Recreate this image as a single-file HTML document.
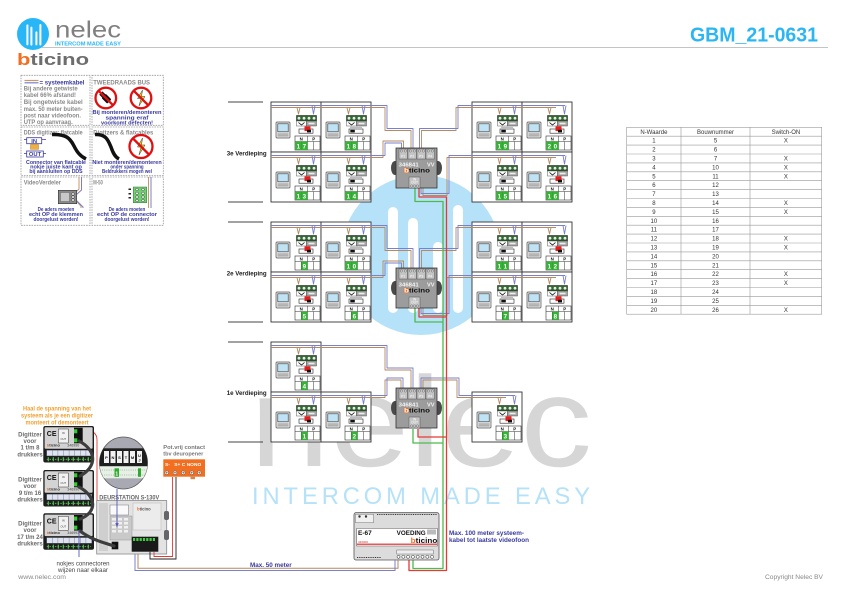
<!DOCTYPE html>
<html><head><meta charset="utf-8"><title>GBM_21-0631</title>
<style>
html,body{margin:0;padding:0;background:#fff;width:841px;height:595px;overflow:hidden;}
svg{display:block;}
text{font-family:"Liberation Sans",Arial,sans-serif;}
.np{font-size:4.4px;font-weight:bold;text-anchor:middle;fill:#111;}
.d{font-size:6.2px;font-weight:bold;text-anchor:middle;fill:#fff;}
.g{fill:#36b336;}
.lt{font-size:6.2px;font-weight:bold;fill:#8a8a8a;}
.lb{font-size:5.8px;font-weight:bold;fill:#3a3a9e;text-anchor:middle;}
.tb{font-size:6px;fill:#333;text-anchor:middle;}
.fl{font-size:6.2px;font-weight:bold;fill:#222;}
.gl{font-size:6px;font-weight:bold;fill:#6a6a6a;text-anchor:middle;}
.pp{font-size:3.3px;fill:#fff;text-anchor:middle;}
</style></head><body>
<svg width="841" height="595" viewBox="0 0 841 595" xmlns="http://www.w3.org/2000/svg">
<defs>
<g id="cb">
 <rect x="0" y="0" width="50" height="50" fill="#fff" stroke="#333" stroke-width="0.9"/>
 <rect x="5" y="20" width="14" height="16" rx="1" fill="#e4e4e4" stroke="#555" stroke-width="0.7"/>
 <rect x="6.8" y="21.8" width="10.4" height="8" fill="#bfe3f4" stroke="#333" stroke-width="0.6"/>
 <rect x="6.5" y="31.5" width="11" height="1.1" fill="#999"/>
 <rect x="6.5" y="33.3" width="11" height="1.1" fill="#999"/>
 <rect x="25.5" y="13.5" width="20" height="5.5" fill="#2c6a2c" stroke="#111" stroke-width="0.5"/>
 <g fill="#dff0df" stroke="#111" stroke-width="0.3"><circle cx="28" cy="16.2" r="1.7"/><circle cx="33" cy="16.2" r="1.7"/><circle cx="38" cy="16.2" r="1.7"/><circle cx="43" cy="16.2" r="1.7"/></g>
 <rect x="25.5" y="19" width="10" height="5" fill="#fff" stroke="#333" stroke-width="0.4"/>
 <path d="M27.5 20.5 L30.5 23 L33.5 20.5" fill="none" stroke="#000" stroke-width="0.8"/>
 <rect x="35.5" y="19" width="10" height="5" fill="#a5a5a5" stroke="#333" stroke-width="0.4"/>
 <rect x="37.5" y="20.7" width="6" height="1.6" fill="#eee"/>
 <rect x="28" y="27" width="14" height="4.2" fill="#fff" stroke="#222" stroke-width="0.6"/>
 <rect x="24" y="34" width="25" height="14" fill="#fff" stroke="#333" stroke-width="0.6"/>
 <path d="M24 39.5H49M36.5 34V48M30.25 39.5V48M42.75 39.5V48" stroke="#333" stroke-width="0.5"/>
</g>
<g id="on"><rect x="33.5" y="24.3" width="6" height="4.8" fill="#e41e1e"/><rect x="36" y="27.8" width="4" height="2.6" fill="#111"/></g>
<g id="off"><rect x="29.3" y="27.8" width="4.5" height="2.6" fill="#111"/><rect x="29" y="24.8" width="12" height="1.2" fill="#bbb"/></g>
<g id="dist">
 <ellipse cx="-1" cy="20" rx="4" ry="7" fill="#4a4a4a"/>
 <ellipse cx="42" cy="20" rx="4" ry="7" fill="#4a4a4a"/>
 <rect width="41" height="40" fill="#9c9c9c" stroke="#333" stroke-width="0.8"/>
 <g fill="#c4c4c4" stroke="#444" stroke-width="0.4"><rect x="3" y="1" width="8.5" height="10"/><rect x="12" y="1" width="8.5" height="10"/><rect x="21" y="1" width="8.5" height="10"/><rect x="30" y="1" width="8.5" height="10"/></g>
 <g fill="#e0e0e0" stroke="#444" stroke-width="0.4"><circle cx="5.3" cy="3" r="1.1"/><circle cx="9.3" cy="3" r="1.1"/><circle cx="14.3" cy="3" r="1.1"/><circle cx="18.3" cy="3" r="1.1"/><circle cx="23.3" cy="3" r="1.1"/><circle cx="27.3" cy="3" r="1.1"/><circle cx="32.3" cy="3" r="1.1"/><circle cx="36.3" cy="3" r="1.1"/></g>
 <rect x="7.8" y="19.8" width="4.6" height="5.2" fill="#f26f21"/>
 <rect x="13" y="29" width="11" height="11" fill="#c4c4c4" stroke="#444" stroke-width="0.4"/>
 <g fill="#e0e0e0" stroke="#444" stroke-width="0.4"><circle cx="15.5" cy="38" r="1.1"/><circle cx="18.5" cy="38" r="1.1"/><circle cx="21.5" cy="38" r="1.1"/></g>
</g>
<g id="dm">
 <rect x="0" y="0" width="50.7" height="36.5" rx="2" fill="#1e1e1e"/>
 <rect x="1.3" y="1.3" width="48" height="21.5" rx="1" fill="#d3d3d3"/>
 <rect x="15" y="3" width="10" height="14" fill="#f2f2f2" stroke="#333" stroke-width="0.5"/>
 <rect x="30.7" y="1.7" width="8.7" height="15.6" fill="#111"/>
 <rect x="30.7" y="3.3" width="3.3" height="4" fill="#3c3"/>
 <rect x="30.7" y="12.3" width="3.3" height="4" fill="#3c3"/>
 <rect x="3.4" y="24.3" width="45" height="5.6" fill="#dfe4f3" stroke="#667" stroke-width="0.3"/>
 <path d="M9 24.3V29.9M14.6 24.3V29.9M20.2 24.3V29.9M25.8 24.3V29.9M31.4 24.3V29.9M37 24.3V29.9M42.6 24.3V29.9" stroke="#667" stroke-width="0.4"/>
 <path d="M5 31.3V35.3M10 31.3V35.3M15 31.3V35.3M20 31.3V35.3M25 31.3V35.3M30 31.3V35.3M35 31.3V35.3M40 31.3V35.3M45 31.3V35.3" stroke="#5c5" stroke-width="1.1"/>
 <path d="M3.5 33.3H47.5" stroke="#5c5" stroke-width="0.8" stroke-dasharray="1.5 1.2"/>
</g>
<clipPath id="mag"><ellipse cx="123.5" cy="463" rx="24" ry="26"/></clipPath>
</defs>

<!-- watermark -->
<circle cx="421" cy="255" r="80" fill="#b5e2f8"/>
<g fill="#fff">
 <rect x="388" y="207" width="10" height="106" rx="5"/>
 <rect x="408" y="218" width="10" height="95" rx="5"/>
 <rect x="433" y="242" width="10" height="71" rx="5"/>
 <rect x="453" y="205" width="10" height="108" rx="5"/>
</g>
<text x="250" y="466" font-size="128" fill="#d6d6d6" textLength="342" lengthAdjust="spacingAndGlyphs">nelec</text>
<text x="252" y="504" font-size="23.7" fill="#b5e2f8" textLength="338" lengthAdjust="spacing">INTERCOM MADE EASY</text>

<!-- header -->
<line x1="42" y1="47.6" x2="828" y2="47.6" stroke="#bbb" stroke-width="0.9"/>
<circle cx="33" cy="34" r="16" fill="#29b6f6"/>
<g fill="#fff"><rect x="26.4" y="24.4" width="2" height="21" rx="1"/><rect x="30.4" y="26.6" width="2" height="19" rx="1"/><rect x="35.4" y="31.4" width="2" height="14" rx="1"/><rect x="39.4" y="24" width="2" height="21.5" rx="1"/></g>
<text x="55" y="37.3" font-size="23" fill="#808080" textLength="66" lengthAdjust="spacingAndGlyphs">nelec</text>
<text x="55" y="45.7" font-size="5.5" font-weight="bold" fill="#29b6f6" textLength="66" lengthAdjust="spacingAndGlyphs">INTERCOM MADE EASY</text>
<text x="17" y="65" font-size="16.5" font-weight="bold" textLength="72" lengthAdjust="spacingAndGlyphs"><tspan fill="#f26f21">b</tspan><tspan fill="#6d6d6d">ticino</tspan></text>
<text x="690" y="41.7" font-size="20" font-weight="bold" fill="#2bb6f2" textLength="128" lengthAdjust="spacingAndGlyphs">GBM_21-0631</text>

<!-- legend -->
<g fill="none" stroke="#9a9a9a" stroke-width="0.8" stroke-dasharray="1.6 1">
<rect x="21" y="75.3" width="69" height="50"/><rect x="92" y="75.3" width="71.3" height="50"/>
<rect x="21" y="127" width="69" height="48.5"/><rect x="92" y="127" width="71.3" height="48.5"/>
<rect x="21" y="177" width="69" height="48.3"/><rect x="92" y="177" width="71.3" height="48.3"/>
</g>
<path d="M24.5 80.5H38.5" stroke="#c49a6c" stroke-width="1.2"/><path d="M24.5 82.8H38.5" stroke="#7b80c8" stroke-width="1.2"/>
<text x="39.5" y="84.3" font-size="6.3" font-weight="bold" fill="#3a3a9e" textLength="45" lengthAdjust="spacingAndGlyphs">= systeemkabel</text>
<text class="lt" x="23.7" y="90.5" textLength="54" lengthAdjust="spacingAndGlyphs">Bij andere getwiste</text>
<text class="lt" x="23.7" y="97" textLength="52.3" lengthAdjust="spacingAndGlyphs">kabel 66% afstand!</text>
<text class="lt" x="23.7" y="104.2" textLength="59" lengthAdjust="spacingAndGlyphs">Bij ongetwiste kabel</text>
<text class="lt" x="23.7" y="110.8" textLength="59" lengthAdjust="spacingAndGlyphs">max. 50 meter buiten-</text>
<text class="lt" x="23.7" y="117.5" textLength="57.3" lengthAdjust="spacingAndGlyphs">post naar videofoon.</text>
<text class="lt" x="23.7" y="124" textLength="49" lengthAdjust="spacingAndGlyphs">UTP op aanvraag.</text>

<text class="lt" x="93.3" y="84.3" textLength="56.7" lengthAdjust="spacingAndGlyphs">TWEEDRAADS BUS</text>
<g transform="translate(105.8,98)">
 <circle r="10.3" fill="#fff" stroke="#e01010" stroke-width="2.3"/>
 <g transform="rotate(-45)"><rect x="-3" y="-3" width="6" height="8" rx="1" fill="#111"/><rect x="-2.3" y="-7" width="1.3" height="4.2" fill="#111"/><rect x="1" y="-7" width="1.3" height="4.2" fill="#111"/><rect x="-0.7" y="5" width="1.4" height="4" fill="#111"/></g>
 <line x1="-7.2" y1="-7.2" x2="7.2" y2="7.2" stroke="#e01010" stroke-width="2.3"/>
</g>
<g transform="translate(141,98)">
 <circle r="10.3" fill="#fff" stroke="#e01010" stroke-width="2.3"/>
 <path d="M1.5 -8 L-3.5 0.5 L0 0.5 L-2 8 L4 -1.5 L0.5 -1.5 Z" fill="#f4d21f" stroke="#333" stroke-width="0.5"/>
 <line x1="-7.2" y1="-7.2" x2="7.2" y2="7.2" stroke="#e01010" stroke-width="2.3"/>
</g>
<text class="lb" x="127" y="114.2" textLength="69" lengthAdjust="spacingAndGlyphs">Bij monteren/demonteren</text>
<text class="lb" x="127" y="119.6" font-size="6.8" textLength="43" lengthAdjust="spacingAndGlyphs">spanning eraf</text>
<text class="lb" x="127" y="124.4" textLength="52" lengthAdjust="spacingAndGlyphs">voorkomt defecten!</text>

<text class="lt" x="23.7" y="134.5" textLength="59" lengthAdjust="spacingAndGlyphs">DDS digitizer: flatcable</text>
<path d="M24 139.5H26.7M41.7 139.5H46M24 153.5H26.7M43.3 153.5H46" stroke="#3a3a9e" stroke-width="0.8"/>
<rect x="26.7" y="137.7" width="15" height="6" fill="#fff" stroke="#3a3a9e" stroke-width="0.8"/>
<text x="34.2" y="142.9" font-size="5.8" font-weight="bold" fill="#3a3a9e" text-anchor="middle">IN</text>
<rect x="30.5" y="144.5" width="8" height="4.8" fill="#f0b040" stroke="#a60" stroke-width="0.4"/>
<rect x="26.7" y="151" width="16.6" height="6" fill="#fff" stroke="#3a3a9e" stroke-width="0.8"/>
<text x="35" y="156.2" font-size="5.8" font-weight="bold" fill="#3a3a9e" text-anchor="middle">OUT</text>
<path d="M52 134.5 C66 134 70 138 74 146 C77 152 80 156 86 159" fill="none" stroke="#111" stroke-width="3.5"/>
<text class="lb" x="56" y="164" font-size="5.3" textLength="60" lengthAdjust="spacingAndGlyphs">Connector van flatcable</text>
<text class="lb" x="56" y="168.5" font-size="5.3" textLength="51.7" lengthAdjust="spacingAndGlyphs">nokje juiste kant op</text>
<text class="lb" x="56" y="173" font-size="5.3" textLength="53.3" lengthAdjust="spacingAndGlyphs">bij aansluiten op DDS</text>

<text class="lt" x="93.3" y="134.5" textLength="60" lengthAdjust="spacingAndGlyphs">Digitzers &amp; flatcables</text>
<path d="M95 134.5 C106 134 108 140 111 147 C113 153 115 157 119 159" fill="none" stroke="#111" stroke-width="3.5"/>
<g transform="translate(141,146.5)">
 <circle r="11.5" fill="#fff" stroke="#e01010" stroke-width="2.3"/>
 <path d="M1.5 -8.5 L-3.5 0.5 L0 0.5 L-2 8.5 L4 -1.5 L0.5 -1.5 Z" fill="#f4d21f" stroke="#333" stroke-width="0.5"/>
 <line x1="-8" y1="-8" x2="8" y2="8" stroke="#e01010" stroke-width="2.3"/>
</g>
<text class="lb" x="127" y="164" font-size="5.3" textLength="69.3" lengthAdjust="spacingAndGlyphs">Niet monteren/demonteren</text>
<text class="lb" x="127" y="168.5" font-size="5.3" textLength="33.3" lengthAdjust="spacingAndGlyphs">onder spanning</text>
<text class="lb" x="127" y="173" font-size="5.3" textLength="50" lengthAdjust="spacingAndGlyphs">Beldrukkers mogen wel</text>

<text class="lt" x="23.7" y="184.5" textLength="37.3" lengthAdjust="spacingAndGlyphs">VideoVerdeler</text>
<path d="M79 177V189L74 194V199L81 206V208" fill="none" stroke="#c49a6c" stroke-width="1"/>
<path d="M81.5 177V190L76 195V200L83 207V208" fill="none" stroke="#7b80c8" stroke-width="1"/>
<rect x="58.3" y="190.3" width="18.4" height="13.4" fill="#8a8a8a" stroke="#333" stroke-width="0.6"/>
<rect x="60.5" y="192.5" width="9" height="9" fill="#c8c8c8" stroke="#555" stroke-width="0.4"/>
<g fill="#eee" stroke="#222" stroke-width="0.4"><circle cx="73" cy="194" r="1.3"/><circle cx="73" cy="197" r="1.3"/><circle cx="73" cy="200" r="1.3"/></g>
<text class="lb" x="56" y="210.8" textLength="36.7" lengthAdjust="spacingAndGlyphs">De aders moeten</text>
<text class="lb" x="56" y="215.8" textLength="54" lengthAdjust="spacingAndGlyphs">echt OP de klemmen</text>
<text class="lb" x="56" y="220.8" textLength="45" lengthAdjust="spacingAndGlyphs">doorgelust worden!</text>

<text class="lt" x="93.3" y="184.5" textLength="9.5" lengthAdjust="spacingAndGlyphs">M-50</text>
<path d="M148.5 177V208" stroke="#c49a6c" stroke-width="1"/><path d="M151 177V208" stroke="#7b80c8" stroke-width="1"/>
<rect x="133.3" y="187" width="13.4" height="15.7" fill="#6fd06f" stroke="#2a7a2a" stroke-width="0.5"/>
<g fill="#eee" stroke="#222" stroke-width="0.4"><circle cx="137" cy="189.5" r="1.3"/><circle cx="137" cy="193.3" r="1.3"/><circle cx="137" cy="197" r="1.3"/><circle cx="137" cy="200.5" r="1.3"/><circle cx="143" cy="189.5" r="1.3"/><circle cx="143" cy="193.3" r="1.3"/><circle cx="143" cy="197" r="1.3"/><circle cx="143" cy="200.5" r="1.3"/></g>
<g fill="#222"><rect x="128.5" y="188.5" width="2.5" height="1.5"/><rect x="128.5" y="193" width="2.5" height="1.5"/><rect x="128.5" y="197" width="2.5" height="1.5"/></g>
<text class="lb" x="127" y="210.8" textLength="36.7" lengthAdjust="spacingAndGlyphs">De aders moeten</text>
<text class="lb" x="127" y="215.8" textLength="60" lengthAdjust="spacingAndGlyphs">echt OP de connector</text>
<text class="lb" x="127" y="220.8" textLength="45" lengthAdjust="spacingAndGlyphs">doorgelust worden!</text>

<!-- table -->
<g stroke="#999" stroke-width="0.6" fill="none">
<rect x="626.7" y="127.3" width="195" height="186.9"/>
<path d="M681 127.3V314.2M750 127.3V314.2"/>
<path d="M626.7 136.2H821.7M626.7 145.1H821.7M626.7 154H821.7M626.7 162.9H821.7M626.7 171.8H821.7M626.7 180.7H821.7M626.7 189.6H821.7M626.7 198.5H821.7M626.7 207.4H821.7M626.7 216.3H821.7M626.7 225.2H821.7M626.7 234.1H821.7M626.7 243H821.7M626.7 251.9H821.7M626.7 260.8H821.7M626.7 269.7H821.7M626.7 278.6H821.7M626.7 287.5H821.7M626.7 296.4H821.7M626.7 305.3H821.7"/>
</g>
<g class="tb">
<text class="tb" x="653.9" y="133.8">N-Waarde</text><text class="tb" x="715.5" y="133.8">Bouwnummer</text><text class="tb" x="785.9" y="133.8">Switch-ON</text>
<text class="tb" x="653.9" y="142.7">1</text><text class="tb" x="715.5" y="142.7">5</text><text class="tb" x="785.9" y="142.7">X</text>
<text class="tb" x="653.9" y="151.6">2</text><text class="tb" x="715.5" y="151.6">6</text>
<text class="tb" x="653.9" y="160.5">3</text><text class="tb" x="715.5" y="160.5">7</text><text class="tb" x="785.9" y="160.5">X</text>
<text class="tb" x="653.9" y="169.4">4</text><text class="tb" x="715.5" y="169.4">10</text><text class="tb" x="785.9" y="169.4">X</text>
<text class="tb" x="653.9" y="178.3">5</text><text class="tb" x="715.5" y="178.3">11</text><text class="tb" x="785.9" y="178.3">X</text>
<text class="tb" x="653.9" y="187.2">6</text><text class="tb" x="715.5" y="187.2">12</text>
<text class="tb" x="653.9" y="196.1">7</text><text class="tb" x="715.5" y="196.1">13</text>
<text class="tb" x="653.9" y="205">8</text><text class="tb" x="715.5" y="205">14</text><text class="tb" x="785.9" y="205">X</text>
<text class="tb" x="653.9" y="213.9">9</text><text class="tb" x="715.5" y="213.9">15</text><text class="tb" x="785.9" y="213.9">X</text>
<text class="tb" x="653.9" y="222.8">10</text><text class="tb" x="715.5" y="222.8">16</text>
<text class="tb" x="653.9" y="231.7">11</text><text class="tb" x="715.5" y="231.7">17</text>
<text class="tb" x="653.9" y="240.6">12</text><text class="tb" x="715.5" y="240.6">18</text><text class="tb" x="785.9" y="240.6">X</text>
<text class="tb" x="653.9" y="249.5">13</text><text class="tb" x="715.5" y="249.5">19</text><text class="tb" x="785.9" y="249.5">X</text>
<text class="tb" x="653.9" y="258.4">14</text><text class="tb" x="715.5" y="258.4">20</text>
<text class="tb" x="653.9" y="267.3">15</text><text class="tb" x="715.5" y="267.3">21</text>
<text class="tb" x="653.9" y="276.2">16</text><text class="tb" x="715.5" y="276.2">22</text><text class="tb" x="785.9" y="276.2">X</text>
<text class="tb" x="653.9" y="285.1">17</text><text class="tb" x="715.5" y="285.1">23</text><text class="tb" x="785.9" y="285.1">X</text>
<text class="tb" x="653.9" y="294">18</text><text class="tb" x="715.5" y="294">24</text>
<text class="tb" x="653.9" y="302.9">19</text><text class="tb" x="715.5" y="302.9">25</text>
<text class="tb" x="653.9" y="311.8">20</text><text class="tb" x="715.5" y="311.8">26</text><text class="tb" x="785.9" y="311.8">X</text>
</g>

<!-- floors -->
<path d="M228 102H263M228 202H263M228 222H263M228 322H263M228 342H263M228 442H263" stroke="#444" stroke-width="0.9"/>
<text class="fl" x="226.7" y="155.5" textLength="40" lengthAdjust="spacingAndGlyphs">3e Verdieping</text>
<text class="fl" x="226.7" y="275.5" textLength="40" lengthAdjust="spacingAndGlyphs">2e Verdieping</text>
<text class="fl" x="226.7" y="395.2" textLength="40" lengthAdjust="spacingAndGlyphs">1e Verdieping</text>

<!-- cells 3e -->
<g transform="translate(271,102)"><use href="#cb"/><use href="#on"/><rect class="g" x="24.3" y="39.5" width="5.95" height="8.5"/><rect class="g" x="30.25" y="39.5" width="6.25" height="8.5"/><text class="np" x="30.25" y="38.6">N</text><text class="np" x="42.75" y="38.6">P</text><text class="d" x="27.3" y="46.4">1</text><text class="d" x="33.4" y="46.4">7</text></g>
<g transform="translate(321,102)"><use href="#cb"/><use href="#off"/><rect class="g" x="24.3" y="39.5" width="5.95" height="8.5"/><rect class="g" x="30.25" y="39.5" width="6.25" height="8.5"/><text class="np" x="30.25" y="38.6">N</text><text class="np" x="42.75" y="38.6">P</text><text class="d" x="27.3" y="46.4">1</text><text class="d" x="33.4" y="46.4">8</text></g>
<g transform="translate(472,102)"><use href="#cb"/><use href="#off"/><rect class="g" x="24.3" y="39.5" width="5.95" height="8.5"/><rect class="g" x="30.25" y="39.5" width="6.25" height="8.5"/><text class="np" x="30.25" y="38.6">N</text><text class="np" x="42.75" y="38.6">P</text><text class="d" x="27.3" y="46.4">1</text><text class="d" x="33.4" y="46.4">9</text></g>
<g transform="translate(522,102)"><use href="#cb"/><use href="#on"/><rect class="g" x="24.3" y="39.5" width="5.95" height="8.5"/><rect class="g" x="30.25" y="39.5" width="6.25" height="8.5"/><text class="np" x="30.25" y="38.6">N</text><text class="np" x="42.75" y="38.6">P</text><text class="d" x="27.3" y="46.4">2</text><text class="d" x="33.4" y="46.4">0</text></g>
<g transform="translate(271,152)"><use href="#cb"/><use href="#on"/><rect class="g" x="24.3" y="39.5" width="5.95" height="8.5"/><rect class="g" x="30.25" y="39.5" width="6.25" height="8.5"/><text class="np" x="30.25" y="38.6">N</text><text class="np" x="42.75" y="38.6">P</text><text class="d" x="27.3" y="46.4">1</text><text class="d" x="33.4" y="46.4">3</text></g>
<g transform="translate(321,152)"><use href="#cb"/><use href="#off"/><rect class="g" x="24.3" y="39.5" width="5.95" height="8.5"/><rect class="g" x="30.25" y="39.5" width="6.25" height="8.5"/><text class="np" x="30.25" y="38.6">N</text><text class="np" x="42.75" y="38.6">P</text><text class="d" x="27.3" y="46.4">1</text><text class="d" x="33.4" y="46.4">4</text></g>
<g transform="translate(472,152)"><use href="#cb"/><use href="#off"/><rect class="g" x="24.3" y="39.5" width="5.95" height="8.5"/><rect class="g" x="30.25" y="39.5" width="6.25" height="8.5"/><text class="np" x="30.25" y="38.6">N</text><text class="np" x="42.75" y="38.6">P</text><text class="d" x="27.3" y="46.4">1</text><text class="d" x="33.4" y="46.4">5</text></g>
<g transform="translate(522,152)"><use href="#cb"/><use href="#on"/><rect class="g" x="24.3" y="39.5" width="5.95" height="8.5"/><rect class="g" x="30.25" y="39.5" width="6.25" height="8.5"/><text class="np" x="30.25" y="38.6">N</text><text class="np" x="42.75" y="38.6">P</text><text class="d" x="27.3" y="46.4">1</text><text class="d" x="33.4" y="46.4">6</text></g>
<!-- cells 2e -->
<g transform="translate(271,222)"><use href="#cb"/><use href="#on"/><rect class="g" x="30.25" y="39.5" width="6.25" height="8.5"/><text class="np" x="30.25" y="38.6">N</text><text class="np" x="42.75" y="38.6">P</text><text class="d" x="33.4" y="46.4">9</text></g>
<g transform="translate(321,222)"><use href="#cb"/><use href="#off"/><rect class="g" x="24.3" y="39.5" width="5.95" height="8.5"/><rect class="g" x="30.25" y="39.5" width="6.25" height="8.5"/><text class="np" x="30.25" y="38.6">N</text><text class="np" x="42.75" y="38.6">P</text><text class="d" x="27.3" y="46.4">1</text><text class="d" x="33.4" y="46.4">0</text></g>
<g transform="translate(472,222)"><use href="#cb"/><use href="#off"/><rect class="g" x="24.3" y="39.5" width="5.95" height="8.5"/><rect class="g" x="30.25" y="39.5" width="6.25" height="8.5"/><text class="np" x="30.25" y="38.6">N</text><text class="np" x="42.75" y="38.6">P</text><text class="d" x="27.3" y="46.4">1</text><text class="d" x="33.4" y="46.4">1</text></g>
<g transform="translate(522,222)"><use href="#cb"/><use href="#on"/><rect class="g" x="24.3" y="39.5" width="5.95" height="8.5"/><rect class="g" x="30.25" y="39.5" width="6.25" height="8.5"/><text class="np" x="30.25" y="38.6">N</text><text class="np" x="42.75" y="38.6">P</text><text class="d" x="27.3" y="46.4">1</text><text class="d" x="33.4" y="46.4">2</text></g>
<g transform="translate(271,272)"><use href="#cb"/><use href="#on"/><rect class="g" x="30.25" y="39.5" width="6.25" height="8.5"/><text class="np" x="30.25" y="38.6">N</text><text class="np" x="42.75" y="38.6">P</text><text class="d" x="33.4" y="46.4">5</text></g>
<g transform="translate(321,272)"><use href="#cb"/><use href="#off"/><rect class="g" x="30.25" y="39.5" width="6.25" height="8.5"/><text class="np" x="30.25" y="38.6">N</text><text class="np" x="42.75" y="38.6">P</text><text class="d" x="33.4" y="46.4">6</text></g>
<g transform="translate(472,272)"><use href="#cb"/><use href="#off"/><rect class="g" x="30.25" y="39.5" width="6.25" height="8.5"/><text class="np" x="30.25" y="38.6">N</text><text class="np" x="42.75" y="38.6">P</text><text class="d" x="33.4" y="46.4">7</text></g>
<g transform="translate(522,272)"><use href="#cb"/><use href="#on"/><rect class="g" x="30.25" y="39.5" width="6.25" height="8.5"/><text class="np" x="30.25" y="38.6">N</text><text class="np" x="42.75" y="38.6">P</text><text class="d" x="33.4" y="46.4">8</text></g>
<!-- cells 1e -->
<g transform="translate(271,342)"><use href="#cb"/><use href="#on"/><rect class="g" x="30.25" y="39.5" width="6.25" height="8.5"/><text class="np" x="30.25" y="38.6">N</text><text class="np" x="42.75" y="38.6">P</text><text class="d" x="33.4" y="46.4">4</text></g>
<g transform="translate(271,392)"><use href="#cb"/><use href="#on"/><rect class="g" x="30.25" y="39.5" width="6.25" height="8.5"/><text class="np" x="30.25" y="38.6">N</text><text class="np" x="42.75" y="38.6">P</text><text class="d" x="33.4" y="46.4">1</text></g>
<g transform="translate(321,392)"><use href="#cb"/><use href="#off"/><rect class="g" x="30.25" y="39.5" width="6.25" height="8.5"/><text class="np" x="30.25" y="38.6">N</text><text class="np" x="42.75" y="38.6">P</text><text class="d" x="33.4" y="46.4">2</text></g>
<g transform="translate(472,392)"><use href="#cb"/><use href="#on"/><rect class="g" x="30.25" y="39.5" width="6.25" height="8.5"/><text class="np" x="30.25" y="38.6">N</text><text class="np" x="42.75" y="38.6">P</text><text class="d" x="33.4" y="46.4">3</text></g>

<!-- cables -->
<g fill="none" stroke="#b48a60" stroke-width="0.9" stroke-linejoin="round">
<path d="M271 107.5H385V130.5H411V148M271 157.5H383V141H403.5V148M556 107.5H456V130.5H421.5V148M556 157.5H447V195.5H423V188"/>
<path d="M271 227.5H385V250.5H411V268M271 277.5H383V261H403.5V268M556 227.5H456V250.5H421.5V268M556 277.5H447V315.5H423V308"/>
<path d="M271 347.5H385V370H411V388M271 397.5H385V380H401V388M506 397.5H457V380H423V388"/>
<path d="M297 107.5L298.5 114L300 107.5M347 107.5L348.5 114L350 107.5M498 107.5L499.5 114L501 107.5M548 107.5L549.5 114L551 107.5
M297 157.5L298.5 164L300 157.5M347 157.5L348.5 164L350 157.5M498 157.5L499.5 164L501 157.5M548 157.5L549.5 164L551 157.5
M297 227.5L298.5 234L300 227.5M347 227.5L348.5 234L350 227.5M498 227.5L499.5 234L501 227.5M548 227.5L549.5 234L551 227.5
M297 277.5L298.5 284L300 277.5M347 277.5L348.5 284L350 277.5M498 277.5L499.5 284L501 277.5M548 277.5L549.5 284L551 277.5
M297 347.5L298.5 354L300 347.5M297 397.5L298.5 404L300 397.5M347 397.5L348.5 404L350 397.5M498 397.5L499.5 404L501 397.5"/>
</g>
<g fill="none" stroke="#7a80cc" stroke-width="0.9" stroke-linejoin="round">
<path d="M271 105.5H387V128.5H413V148M271 155.5H385V143H401.5V148M565 105.5H458V128.5H419.5V148M565 155.5H449V193.5H421V188"/>
<path d="M271 225.5H387V248.5H413V268M271 275.5H385V263H401.5V268M565 225.5H458V248.5H419.5V268M565 275.5H449V313.5H421V308"/>
<path d="M271 345.5H387V368H413V388M271 395.5H387V378H403V388M515 395.5H459V378H421V388"/>
<path d="M312 105.5L313.5 114L315 105.5M362 105.5L363.5 114L365 105.5M513 105.5L514.5 114L516 105.5M563 105.5L564.5 114L566 105.5
M312 155.5L313.5 164L315 155.5M362 155.5L363.5 164L365 155.5M513 155.5L514.5 164L516 155.5M563 155.5L564.5 164L566 155.5
M312 225.5L313.5 234L315 225.5M362 225.5L363.5 234L365 225.5M513 225.5L514.5 234L516 225.5M563 225.5L564.5 234L566 225.5
M312 275.5L313.5 284L315 275.5M362 275.5L363.5 284L365 275.5M513 275.5L514.5 284L516 275.5M563 275.5L564.5 284L566 275.5
M312 345.5L313.5 354L315 345.5M312 395.5L313.5 404L315 395.5M362 395.5L363.5 404L365 395.5M513 395.5L514.5 404L516 395.5"/>
</g>

<!-- riser -->
<g fill="none" stroke-width="1.3" stroke-linejoin="round">
<path d="M415 188V201.5H443V568.5H413V560M415 308V322H443M413 429V443H443" stroke="#4cbb4c"/>
<path d="M419 188V197H446.5V570.5H409V560M419 308V317H446.5M418 429V437H446.5" stroke="#e53935"/>
</g>

<!-- distributors -->
<g transform="translate(396,148)"><use href="#dist"/><text class="pp" x="7.2" y="9.5">P1</text><text class="pp" x="16.2" y="9.5">P2</text><text class="pp" x="25.2" y="9.5">P3</text><text class="pp" x="34.2" y="9.5">P4</text><text x="2.7" y="18.5" font-size="5.6" font-weight="bold" fill="#f4f4f4" textLength="20" lengthAdjust="spacingAndGlyphs">346841</text><text x="31" y="18.5" font-size="5.6" font-weight="bold" fill="#f4f4f4">VV</text><text x="8" y="24.6" font-size="6.8" font-weight="bold" textLength="26" lengthAdjust="spacingAndGlyphs"><tspan fill="#fff">b</tspan><tspan fill="#111">ticino</tspan></text><text class="pp" x="18.5" y="32.5">IN</text><text class="pp" x="18.5" y="35.6">OUT</text></g>
<g transform="translate(396,268)"><use href="#dist"/><text class="pp" x="7.2" y="9.5">P1</text><text class="pp" x="16.2" y="9.5">P2</text><text class="pp" x="25.2" y="9.5">P3</text><text class="pp" x="34.2" y="9.5">P4</text><text x="2.7" y="18.5" font-size="5.6" font-weight="bold" fill="#f4f4f4" textLength="20" lengthAdjust="spacingAndGlyphs">346841</text><text x="31" y="18.5" font-size="5.6" font-weight="bold" fill="#f4f4f4">VV</text><text x="8" y="24.6" font-size="6.8" font-weight="bold" textLength="26" lengthAdjust="spacingAndGlyphs"><tspan fill="#fff">b</tspan><tspan fill="#111">ticino</tspan></text><text class="pp" x="18.5" y="32.5">IN</text><text class="pp" x="18.5" y="35.6">OUT</text></g>
<g transform="translate(396,388)"><use href="#dist"/><text class="pp" x="7.2" y="9.5">P1</text><text class="pp" x="16.2" y="9.5">P2</text><text class="pp" x="25.2" y="9.5">P3</text><text class="pp" x="34.2" y="9.5">P4</text><text x="2.7" y="18.5" font-size="5.6" font-weight="bold" fill="#f4f4f4" textLength="20" lengthAdjust="spacingAndGlyphs">346841</text><text x="31" y="18.5" font-size="5.6" font-weight="bold" fill="#f4f4f4">VV</text><text x="8" y="24.6" font-size="6.8" font-weight="bold" textLength="26" lengthAdjust="spacingAndGlyphs"><tspan fill="#fff">b</tspan><tspan fill="#111">ticino</tspan></text><text class="pp" x="18.5" y="32.5">IN</text><text class="pp" x="18.5" y="35.6">OUT</text></g>

<!-- voeding -->
<rect x="354" y="512.7" width="85" height="47.3" rx="2" fill="#dcdcdc" stroke="#555" stroke-width="0.8"/>
<rect x="355.5" y="514.2" width="18" height="8.5" fill="#f0f0f0" stroke="#555" stroke-width="0.4"/>
<g fill="#333"><circle cx="359.5" cy="516.5" r="1.2"/><circle cx="366" cy="516.5" r="1.2"/></g>
<path d="M377 514.5H437M357 557.5H381" stroke="#333" stroke-width="1" stroke-dasharray="1 0.8"/>
<rect x="356.7" y="528.3" width="80.6" height="17.7" fill="#fff" stroke="#555" stroke-width="0.5"/>
<line x1="357" y1="544.2" x2="437" y2="544.2" stroke="#d22" stroke-width="1.2"/>
<rect x="427" y="529.5" width="9" height="5" fill="#bbb"/>
<text x="358" y="534.8" font-size="6.5" font-weight="bold" fill="#111">E-67</text>
<text x="396.7" y="534.8" font-size="6" font-weight="bold" fill="#111" textLength="29" lengthAdjust="spacingAndGlyphs">VOEDING</text>
<text x="410.7" y="542.8" font-size="7" font-weight="bold" textLength="26.6" lengthAdjust="spacingAndGlyphs"><tspan fill="#f26f21">b</tspan><tspan fill="#111">ticino</tspan></text>
<text x="358" y="542.8" font-size="3" fill="#c33">346000</text>
<rect x="396.7" y="550" width="36.6" height="4" fill="#eee" stroke="#555" stroke-width="0.4"/>
<g fill="#fff" stroke="#222" stroke-width="0.5"><circle cx="398.5" cy="556.8" r="1.5"/><circle cx="403.3" cy="556.8" r="1.5"/><circle cx="408.1" cy="556.8" r="1.5"/><circle cx="412.9" cy="556.8" r="1.5"/><circle cx="417.7" cy="556.8" r="1.5"/><circle cx="422.5" cy="556.8" r="1.5"/><circle cx="427.3" cy="556.8" r="1.5"/><circle cx="432.1" cy="556.8" r="1.5"/></g>
<text x="449" y="535" font-size="6" font-weight="bold" fill="#3a3a9e" textLength="75" lengthAdjust="spacingAndGlyphs">Max. 100 meter systeem-</text>
<text x="449" y="542" font-size="6" font-weight="bold" fill="#3a3a9e" textLength="80" lengthAdjust="spacingAndGlyphs">kabel tot laatste videofoon</text>

<!-- bottom cables -->
<path d="M138 551.7V568.3H398V560" fill="none" stroke="#b48a60" stroke-width="1"/>
<path d="M135 551.7V570.5H395V560" fill="none" stroke="#7a80cc" stroke-width="1"/>
<text x="250" y="566.8" font-size="6" font-weight="bold" fill="#3a3a9e" textLength="41.7" lengthAdjust="spacingAndGlyphs">Max. 50 meter</text>

<!-- bottom-left digitizers -->
<text class="gl" x="57" y="410.5" style="fill:#f0a030" textLength="68" lengthAdjust="spacingAndGlyphs">Haal de spanning van het</text>
<text class="gl" x="57" y="417.5" style="fill:#f0a030" textLength="72" lengthAdjust="spacingAndGlyphs">systeem als je een digitizer</text>
<text class="gl" x="57" y="424.5" style="fill:#f0a030" textLength="63" lengthAdjust="spacingAndGlyphs">monteert of demonteert</text>

<text class="gl" x="30" y="436.5">Digitizer</text><text class="gl" x="30" y="443">voor</text><text class="gl" x="30" y="449.5">1 t/m 8</text><text class="gl" x="30" y="456.5">drukkers</text>
<text class="gl" x="30" y="481.5">Digitizer</text><text class="gl" x="30" y="488">voor</text><text class="gl" x="30" y="495">9 t/m 16</text><text class="gl" x="30" y="501.5">drukkers</text>
<text class="gl" x="30" y="525.5">Digitizer</text><text class="gl" x="30" y="532">voor</text><text class="gl" x="30" y="539">17 t/m 24</text><text class="gl" x="30" y="545.5">drukkers</text>

<path d="M84 430C92 430 97 433 97 440V546C97 551 103 551 112 548" fill="none" stroke="#e53935" stroke-width="0.9"/>

<g transform="translate(43.3,426)"><use href="#dm"/><text x="3.5" y="10" font-size="7" font-weight="bold" fill="#111">CE</text><text x="3.5" y="20.5" font-size="4" font-weight="bold"><tspan fill="#f26f21">b</tspan><tspan fill="#333">ticino</tspan></text><text x="24" y="20.5" font-size="3.6" fill="#444">346990</text><text x="20" y="8" font-size="2.6" fill="#333" text-anchor="middle">IN</text><text x="20" y="14" font-size="2.6" fill="#333" text-anchor="middle">OUT</text></g>
<g transform="translate(43.3,470)"><use href="#dm"/><text x="3.5" y="10" font-size="7" font-weight="bold" fill="#111">CE</text><text x="3.5" y="20.5" font-size="4" font-weight="bold"><tspan fill="#f26f21">b</tspan><tspan fill="#333">ticino</tspan></text><text x="24" y="20.5" font-size="3.6" fill="#444">346990</text><text x="20" y="8" font-size="2.6" fill="#333" text-anchor="middle">IN</text><text x="20" y="14" font-size="2.6" fill="#333" text-anchor="middle">OUT</text></g>
<g transform="translate(43.3,513.3)"><use href="#dm"/><text x="3.5" y="10" font-size="7" font-weight="bold" fill="#111">CE</text><text x="3.5" y="20.5" font-size="4" font-weight="bold"><tspan fill="#f26f21">b</tspan><tspan fill="#333">ticino</tspan></text><text x="24" y="20.5" font-size="3.6" fill="#444">346993</text><text x="20" y="8" font-size="2.6" fill="#333" text-anchor="middle">IN</text><text x="20" y="14" font-size="2.6" fill="#333" text-anchor="middle">OUT</text></g>

<!-- door station -->
<text x="99.3" y="499.3" font-size="6" font-weight="bold" fill="#666" textLength="60" lengthAdjust="spacingAndGlyphs">DEURSTATION S-130V</text>
<rect x="96.7" y="500.5" width="70" height="53.5" fill="#e3e3e3" stroke="#8a8a8a" stroke-width="0.8"/>
<rect x="99" y="503" width="9" height="48" fill="#cfcfcf"/>
<rect x="110" y="505" width="18.5" height="10" fill="#fafafa" stroke="#777" stroke-width="0.5"/>
<rect x="110" y="516" width="22" height="24" fill="#c9c9c9" stroke="#888" stroke-width="0.4"/>
<g fill="#f0f0f0"><rect x="112" y="518" width="4" height="2.5"/><rect x="112" y="522" width="4" height="2.5"/><rect x="112" y="526" width="4" height="2.5"/><rect x="112" y="530" width="4" height="2.5"/><rect x="118" y="518" width="4" height="2.5"/><rect x="118" y="522" width="4" height="2.5"/><rect x="118" y="526" width="4" height="2.5"/><rect x="118" y="530" width="4" height="2.5"/><rect x="124" y="518" width="4" height="2.5"/><rect x="124" y="522" width="4" height="2.5"/><rect x="124" y="526" width="4" height="2.5"/><rect x="124" y="530" width="4" height="2.5"/></g>
<rect x="133" y="503" width="28" height="27" fill="#ececec" stroke="#aaa" stroke-width="0.4"/>
<text x="137" y="510.5" font-size="4.2" font-weight="bold"><tspan fill="#f26f21">b</tspan><tspan fill="#555">ticino</tspan></text>
<rect x="164" y="511" width="5" height="9" rx="2" fill="#666"/><rect x="164" y="530" width="5" height="10" rx="2" fill="#666"/>
<rect x="131.7" y="536.7" width="26.6" height="15" fill="#1a1a1a"/>
<g fill="#4c4"><rect x="133" y="538" width="2.2" height="3"/><rect x="136.3" y="538" width="2.2" height="3"/><rect x="139.6" y="538" width="2.2" height="3"/><rect x="142.9" y="538" width="2.2" height="3"/><rect x="146.2" y="538" width="2.2" height="3"/><rect x="149.5" y="538" width="2.2" height="3"/><rect x="152.8" y="538" width="2.2" height="3"/></g>
<rect x="111.7" y="541.7" width="6.6" height="7.6" fill="#111"/>

<!-- flatcables -->
<g fill="none" stroke="#3d3d3d" stroke-width="3.2" stroke-linecap="round">
<path d="M79 441C96 450 98 466 80 476"/><path d="M79 487C96 496 98 512 80 519"/><path d="M80 531C92 540 102 542 114 546"/>
</g>
<path d="M79 530V557" stroke="#5a5ac0" stroke-width="0.9"/>

<!-- magnifier -->
<ellipse cx="123.5" cy="463" rx="24" ry="26" fill="#a9a9b4" stroke="#555" stroke-width="0.8"/>
<g clip-path="url(#mag)">
<rect x="99" y="448.3" width="50" height="18" fill="#1e1e1e"/>
<g fill="#f2f2f2"><rect x="104" y="451" width="5" height="12"/><rect x="110.5" y="451" width="5" height="12"/><rect x="117" y="451" width="5" height="12"/><rect x="123.5" y="451" width="5" height="12"/><rect x="130" y="451" width="5" height="12"/><rect x="137" y="451" width="5" height="12"/></g>
<rect x="99" y="466.3" width="50" height="12" fill="#e6f0e4"/>
<path d="M102 470H146M102 475H146" stroke="#9a9" stroke-width="0.8" stroke-dasharray="1 1.2"/>
<rect x="114.5" y="468.3" width="4.5" height="8.5" fill="#2eaa2e"/><rect x="138" y="468.3" width="3" height="8.5" fill="#2eaa2e"/>
</g>
<g font-size="4" font-weight="bold" fill="#111" text-anchor="middle"><text x="106.5" y="459">P</text><text x="113" y="459">N</text><text x="119.5" y="459">S</text><text x="126" y="459">T</text><text x="132.5" y="459">M</text><text x="139.5" y="457">U</text><text x="139.5" y="461.5">J</text></g>
<text x="116.8" y="475.3" font-size="5" font-weight="bold" fill="#fff" text-anchor="middle">1</text>
<path d="M117 489V526" stroke="#5a5ac0" stroke-width="0.9"/><path d="M115.3 523L117 527.5L118.7 523Z" fill="#5a5ac0"/>

<!-- pot vrij -->
<text x="163.3" y="449" font-size="5.7" font-weight="bold" fill="#777" textLength="41.7" lengthAdjust="spacingAndGlyphs">Pot.vrij contact</text>
<text x="163.3" y="455.7" font-size="5.7" font-weight="bold" fill="#777" textLength="40" lengthAdjust="spacingAndGlyphs">tbv deuropener</text>
<rect x="163.3" y="459.3" width="41.7" height="17.4" fill="#f26f21"/>
<g font-size="4.8" font-weight="bold" fill="#fff"><text x="165" y="466.2">S-</text><text x="174.3" y="466.2">S+</text><text x="181.7" y="466.2">C</text><text x="186.7" y="466.2">NO</text><text x="194" y="466.2">NO</text></g>
<g fill="#fff" stroke="#333" stroke-width="0.4"><circle cx="166.7" cy="472.7" r="1.9"/><circle cx="175" cy="472.7" r="1.9"/><circle cx="183.3" cy="472.7" r="1.9"/><circle cx="191.7" cy="472.7" r="1.9"/><circle cx="199.3" cy="472.7" r="1.9"/></g>
<path d="M165.5 472.7H167.9M166.7 471.5V473.9M173.8 472.7H176.2M175 471.5V473.9M182.1 472.7H184.5M183.3 471.5V473.9M190.5 472.7H192.9M191.7 471.5V473.9M198.1 472.7H200.5M199.3 471.5V473.9" stroke="#333" stroke-width="0.4"/>
<rect x="190.5" y="476.7" width="4.5" height="2.5" fill="#c85"/>
<path d="M172.5 477V556.5H154V551.7" fill="none" stroke="#e53935" stroke-width="0.9"/>
<path d="M176 477V559H150V551.7" fill="none" stroke="#222" stroke-width="0.9"/>

<text x="83" y="565.5" font-size="6" fill="#444" text-anchor="middle" textLength="53" lengthAdjust="spacingAndGlyphs">nokjes connectoren</text>
<text x="83" y="572" font-size="6" fill="#444" text-anchor="middle" textLength="50" lengthAdjust="spacingAndGlyphs">wijzen naar elkaar</text>

<!-- footer -->
<text x="18.3" y="579" font-size="6.5" fill="#888" textLength="47.7" lengthAdjust="spacingAndGlyphs">www.nelec.com</text>
<text x="765" y="579" font-size="6.5" fill="#888" textLength="58" lengthAdjust="spacingAndGlyphs">Copyright Nelec BV</text>
</svg>
</body></html>
